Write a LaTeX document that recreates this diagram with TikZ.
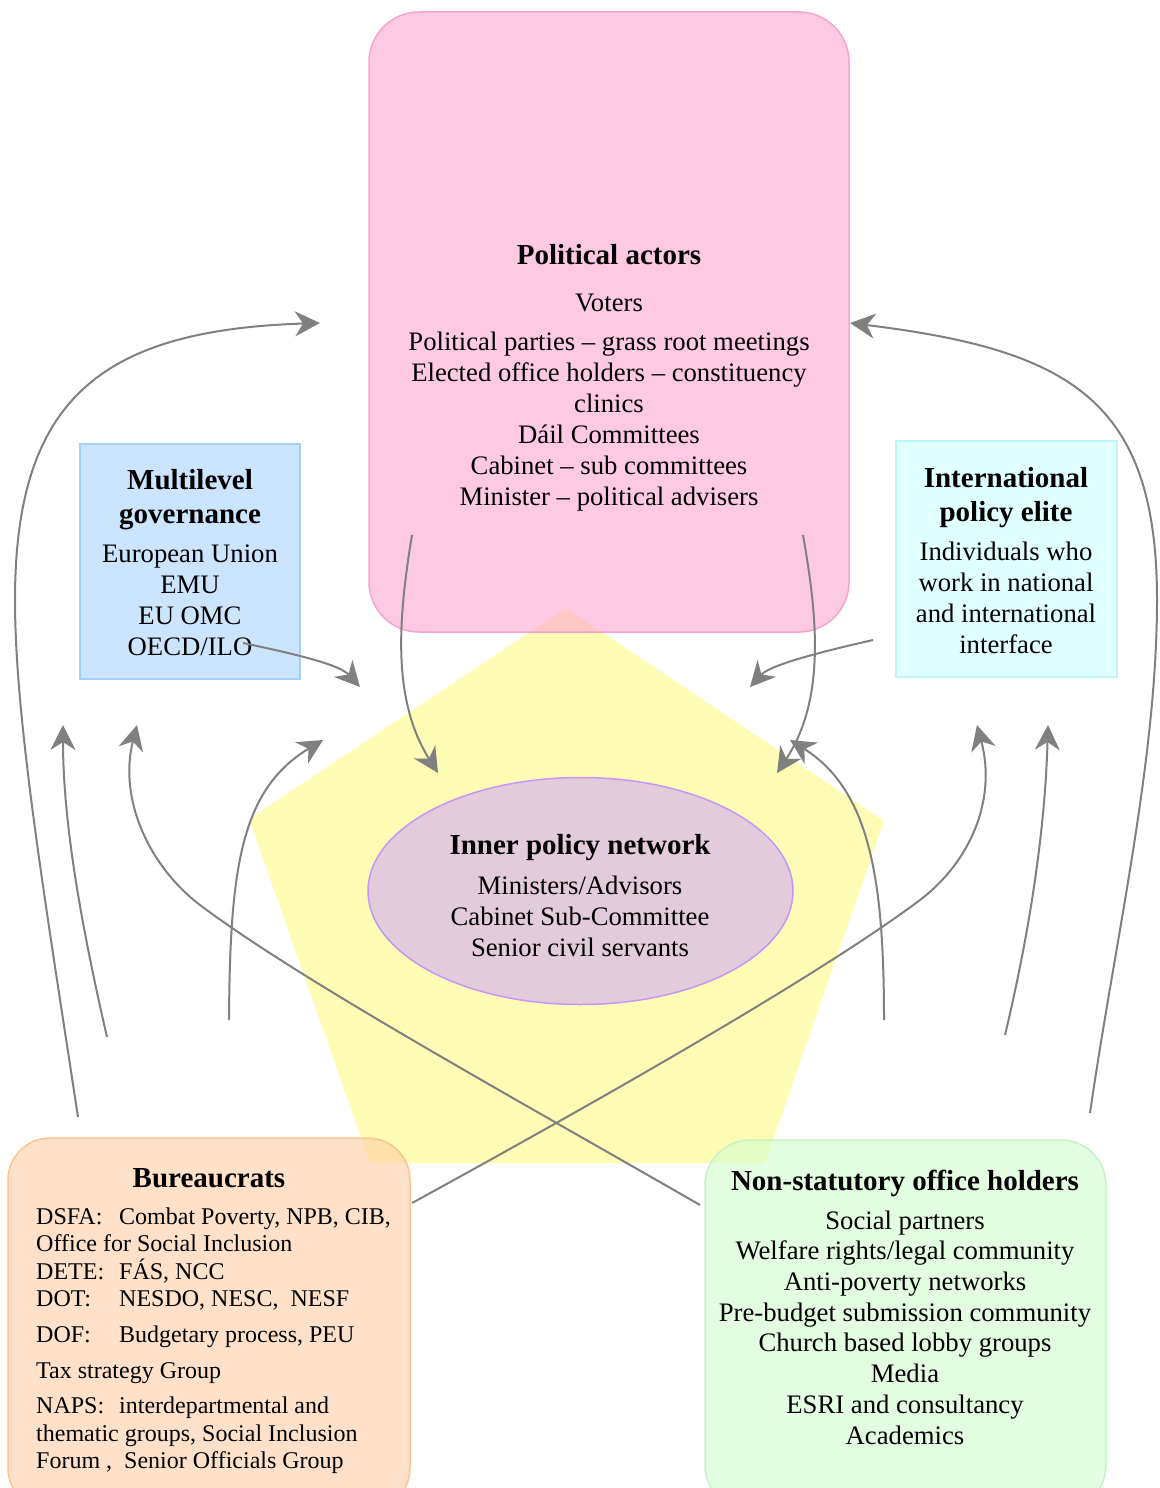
\documentclass[tikz,border=0pt]{standalone}
\usepackage{fontspec}
\setmainfont{Liberation Serif}
\usetikzlibrary{arrows.meta,shapes.geometric}
\definecolor{yellowf}{RGB}{255,253,181}
\definecolor{pinkf}{RGB}{252,165,208}
\definecolor{pinkd}{RGB}{248,164,206}
\definecolor{bluef}{RGB}{204,229,255}
\definecolor{blued}{RGB}{166,207,248}
\definecolor{cyanf}{RGB}{224,255,255}
\definecolor{cyand}{RGB}{190,245,245}
\definecolor{orangef}{RGB}{253,205,163}
\definecolor{oranged}{RGB}{252,197,143}
\definecolor{greenf}{RGB}{207,252,203}
\definecolor{greend}{RGB}{197,243,197}
\definecolor{ellf}{RGB}{226,203,218}
\definecolor{elld}{RGB}{198,149,245}
\definecolor{arrowgray}{RGB}{128,128,128}
\begin{document}
\begin{tikzpicture}[x=1pt,y=-1pt,
  conn/.style={draw=arrowgray, line width=2pt, -{Stealth[length=25pt,width=25pt,inset=8pt]}},
  body/.style={font=\fontsize{26.7}{31}\selectfont, align=center, inner sep=0pt, anchor=base},
  ttl/.style={font=\fontsize{29}{34}\selectfont\bfseries, align=center, inner sep=0pt, anchor=base},
  box/.style={rectangle, line width=1.5pt, inner sep=0pt}]
\useasboundingbox (0,0) rectangle (1159,1488);
\clip (0,0) rectangle (1159,1488);
% pentagon
\path[fill=yellowf] (566,608) -- (884,821) -- (765,1163) -- (370,1163) -- (249,819) -- cycle;
% boxes
\node[box, draw=pinkd, fill=pinkf, fill opacity=0.6, rounded corners=50pt, minimum width=480pt, minimum height=620pt] (pol) at (609,322) {};
\node[box, draw=blued, fill=bluef, minimum width=220pt, minimum height=235pt] (mlg) at (190,561.5) {};
\node[box, draw=cyand, fill=cyanf, minimum width=221pt, minimum height=236pt] (ipe) at (1006.5,559) {};
\node[box, draw=oranged, fill=orangef, fill opacity=0.6, rounded corners=42pt, minimum width=402pt, minimum height=372pt] (bur) at (209,1324) {};
\node[box, draw=greend, fill=greenf, fill opacity=0.6, rounded corners=45pt, minimum width=401pt, minimum height=370pt] (nso) at (905.5,1325) {};
\node[ellipse, draw=elld, line width=1.5pt, fill=ellf, minimum width=425pt, minimum height=227pt] (inner) at (580.5,891) {};
% texts (multi-line nodes are anchored at the baseline of their last line)
\node[ttl] (polT) at (609,264) {Political actors};
\node[body] (polV) at (609,311) {Voters};
\node[body] (polB) at (609,505) {Political parties – grass root meetings\\Elected office holders – constituency\\clinics\\Dáil Committees\\Cabinet – sub committees\\Minister – political advisers};
\node[ttl] (mlgT) at (190,523) {Multilevel\\governance};
\node[body] (mlgB) at (190,655) {European Union\\EMU\\EU OMC\\OECD/ILO};
\node[ttl] (ipeT) at (1006,521) {International\\policy elite};
\node[body, font=\fontsize{26.7}{30.7}\selectfont] (ipeB) at (1006,653) {Individuals who\\work in national\\and international\\interface};
\node[ttl] (innT) at (580,854) {Inner policy network};
\node[body] (innB) at (580,956) {Ministers/Advisors\\Cabinet Sub-Committee\\Senior civil servants};
\node[ttl] (burT) at (209,1187) {Bureaucrats};
\node[body, font=\fontsize{24}{27.5}\selectfont, align=left, anchor=base west] (burB) at (36,1468.5) {\makebox[83pt][l]{DSFA:}Combat Poverty, NPB, CIB,\\Office for Social Inclusion\\\makebox[83pt][l]{DETE:}FÁS, NCC\\\makebox[83pt][l]{DOT:}NESDO, NESC,\ \ NESF\\[8.5pt]\makebox[83pt][l]{DOF:}Budgetary process, PEU\\[8.5pt]Tax strategy Group\\[7.5pt]\makebox[83pt][l]{NAPS:}interdepartmental and\\thematic groups, Social Inclusion\\Forum ,\ \ Senior Officials Group};
\node[ttl] (nsoT) at (905,1190) {Non-statutory office holders};
\node[body, font=\fontsize{26.7}{30.7}\selectfont] (nsoB) at (905,1444) {Social partners\\Welfare rights/legal community\\Anti-poverty networks\\Pre-budget submission community\\Church based lobby groups\\Media\\ESRI and consultancy\\Academics};
% connector end points
\coordinate (a1) at (78,1117);   \coordinate (a2) at (320,323);
\coordinate (b1) at (107,1037);  \coordinate (b2) at (63,725);
\coordinate (c1) at (700,1205);  \coordinate (c2) at (137,725);
\coordinate (d1) at (229,1020);  \coordinate (d2) at (323,740);
\coordinate (e1) at (412,535);   \coordinate (e2) at (438,773);
\coordinate (f1) at (803,535);   \coordinate (f2) at (777,773);
\coordinate (g1) at (243,643);   \coordinate (g2) at (360,687);
\coordinate (h1) at (873,640);   \coordinate (h2) at (750,687);
\coordinate (i1) at (884,1020);  \coordinate (i2) at (790,740);
\coordinate (j1) at (412,1203);  \coordinate (j2) at (977,725);
\coordinate (k1) at (1005,1035); \coordinate (k2) at (1048,725);
\coordinate (l1) at (1090,1113); \coordinate (l2) at (850,323);
% connectors
\draw[conn] (a1) .. controls (45,900) and (15,720) .. (15,600) .. controls (15,400) and (100,330) .. (a2);
\draw[conn] (b1) .. controls (80,920) and (63,820) .. (b2);
\draw[conn] (c1) .. controls (500,1090) and (300,980) .. (200,905) .. controls (150,867) and (118,800) .. (c2);
\draw[conn] (d1) .. controls (230,870) and (240,790) .. (d2);
\draw[conn] (e1) .. controls (398,620) and (392,700) .. (e2);
\draw[conn] (f1) .. controls (818,620) and (825,700) .. (f2);
\draw[conn] (g1) .. controls (300,655) and (340,665) .. (g2);
\draw[conn] (h1) .. controls (820,652) and (770,665) .. (h2);
\draw[conn] (i1) .. controls (884,880) and (870,790) .. (i2);
\draw[conn] (j1) .. controls (600,1100) and (820,975) .. (920,900) .. controls (970,862) and (997,800) .. (j2);
\draw[conn] (k1) .. controls (1030,930) and (1045,830) .. (k2);
\draw[conn] (l1) .. controls (1115,940) and (1157,760) .. (1157,600) .. controls (1157,400) and (1070,350) .. (l2);
\end{tikzpicture}
\end{document}
